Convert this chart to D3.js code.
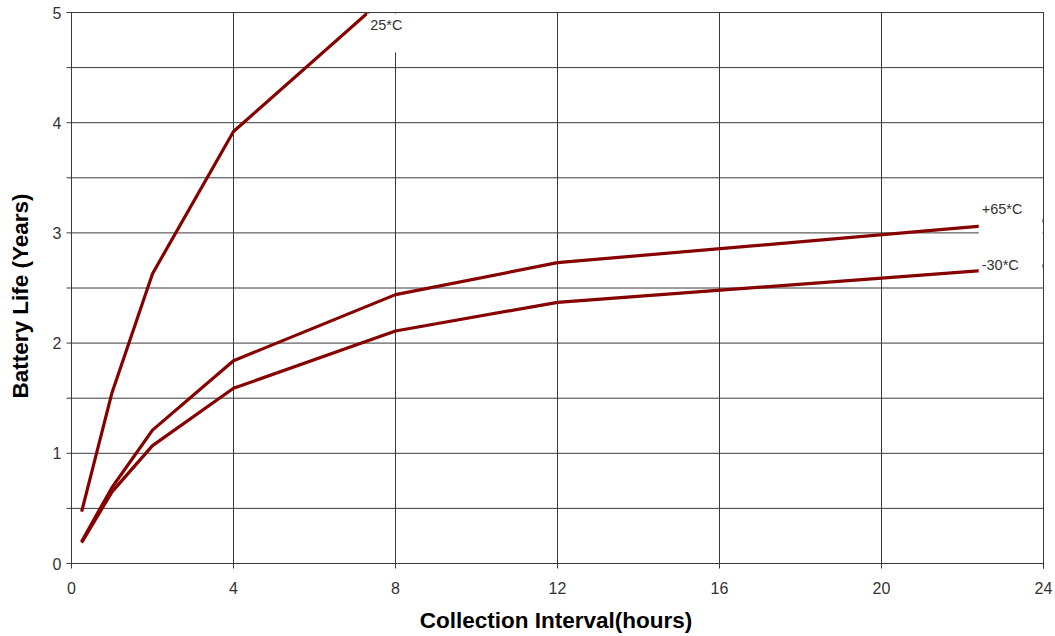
<!DOCTYPE html>
<html><head>
<meta charset="utf-8">
<script src="https://d3js.org/d3.v7.min.js"></script>
<style>
  body { margin: 0; background: #fff; }
  .tick-label { font-family: "Liberation Sans", Arial, sans-serif; font-size: 16px; fill: #333; }
  .series-label { font-family: "Liberation Sans", Arial, sans-serif; font-size: 14.5px; fill: #333; }
  .title { font-family: "Liberation Sans", Arial, sans-serif; font-size: 22.5px; font-weight: bold; fill: #000; }
</style>
</head>
<body>
<svg id="chart" width="1055" height="636"></svg>
<script>

// data
const hours = [0.25, 1, 2, 4, 8, 12, 24];
const life25 = [0.47, 1.55, 2.63, 3.92, 5.22];          // runs off the top after 4h
const lifePlus65 = [0.20, 0.69, 1.21, 1.84, 2.44, 2.73, 3.11];
const lifeMinus30 = [0.19, 0.65, 1.07, 1.59, 2.11, 2.37, 2.70];
const seriesNames = ["25*C", "+65*C", "-30*C"];
// where each label sits (data units)
const labelX = [7.3, 22.4, 22.4];
const labelY = [4.94, 3.27, 2.76];
const xTicks = [0, 4, 8, 12, 16, 20, 24];
const yTicks = [0, 1, 2, 3, 4, 5];

const svg = d3.select("svg#chart");
const x = d3.scaleLinear().domain([0, 24]).range([71.5, 1043.5]);
const y = d3.scaleLinear().domain([0, 5]).range([563.5, 12.5]);

const gridColor = "#3a3a3a";
const lineColor = "#860000";

// horizontal gridlines every half year
const halfSteps = d3.range(0.5, 5.01, 0.5);
svg.append("g").selectAll("line").data(halfSteps).join("line")
  .attr("x1", x(0) - 5).attr("x2", x(24))
  .attr("y1", d => y(d)).attr("y2", d => y(d))
  .attr("stroke", gridColor).attr("stroke-width", 1);

// vertical gridlines
svg.append("g").selectAll("line").data(xTicks.slice(1)).join("line")
  .attr("x1", d => x(d)).attr("x2", d => x(d))
  .attr("y1", y(5)).attr("y2", y(0) + 5)
  .attr("stroke", gridColor).attr("stroke-width", 1);

// series lines, clipped to the plot
svg.append("clipPath").attr("id", "plotClip")
  .append("rect").attr("x", x(0)).attr("y", y(5)).attr("width", x(24) - x(0)).attr("height", y(0) - y(5));

const series = [life25, lifePlus65, lifeMinus30];
const line = d3.line().x(d => x(d[0])).y(d => y(d[1]));
svg.append("g").attr("clip-path", "url(#plotClip)")
  .selectAll("path").data(series).join("path")
  .attr("d", vals => line(vals.map((v, i) => [hours[i], v])))
  .attr("fill", "none")
  .attr("stroke", lineColor)
  .attr("stroke-width", 3.2)
  .attr("stroke-linejoin", "round");

// data labels with white boxes (they hide grid and line behind them)
const labels = svg.append("g");
seriesNames.forEach((name, i) => {
  const lx = x(labelX[i]);
  const ly = y(labelY[i]);
  const w = i === 0 ? 42 : x(24) - lx - 1;
  const top = i === 0 ? y(5) + 1 : ly - 8;
  const h = i === 0 ? 39 : (i === 1 ? 45 : 33);
  labels.append("rect")
    .attr("x", lx).attr("y", top).attr("width", w).attr("height", h)
    .attr("fill", "#fff");
  labels.append("text").attr("class", "series-label")
    .attr("x", lx + 3).attr("y", i === 0 ? y(5) + 17 : ly + 11)
    .text(name);
});

// plot axes lines
svg.append("line").attr("x1", x(0)).attr("x2", x(0)).attr("y1", y(5)).attr("y2", y(0) + 5)
  .attr("stroke", gridColor);
svg.append("line").attr("x1", x(0) - 5).attr("x2", x(24)).attr("y1", y(0)).attr("y2", y(0))
  .attr("stroke", gridColor);
svg.append("line").attr("x1", x(24)).attr("x2", x(24)).attr("y1", y(5)).attr("y2", y(0) + 5)
  .attr("stroke", gridColor);
svg.append("line").attr("x1", x(0)).attr("x2", x(24)).attr("y1", y(5)).attr("y2", y(5))
  .attr("stroke", gridColor);

// tick labels
svg.append("g").selectAll("text").data(yTicks).join("text")
  .attr("class", "tick-label")
  .attr("x", x(0) - 10).attr("y", d => y(d) + 6)
  .attr("text-anchor", "end")
  .text(d => d);
svg.append("g").selectAll("text").data(xTicks).join("text")
  .attr("class", "tick-label")
  .attr("x", d => x(d)).attr("y", y(0) + 30)
  .attr("text-anchor", "middle")
  .text(d => d);

// axis titles
svg.append("text").attr("class", "title")
  .attr("x", 556).attr("y", 628)
  .attr("text-anchor", "middle")
  .text("Collection Interval(hours)");
svg.append("text").attr("class", "title")
  .attr("transform", "translate(28,296) rotate(-90)")
  .attr("text-anchor", "middle")
  .text("Battery Life (Years)");

</script>
</body>
</html>
